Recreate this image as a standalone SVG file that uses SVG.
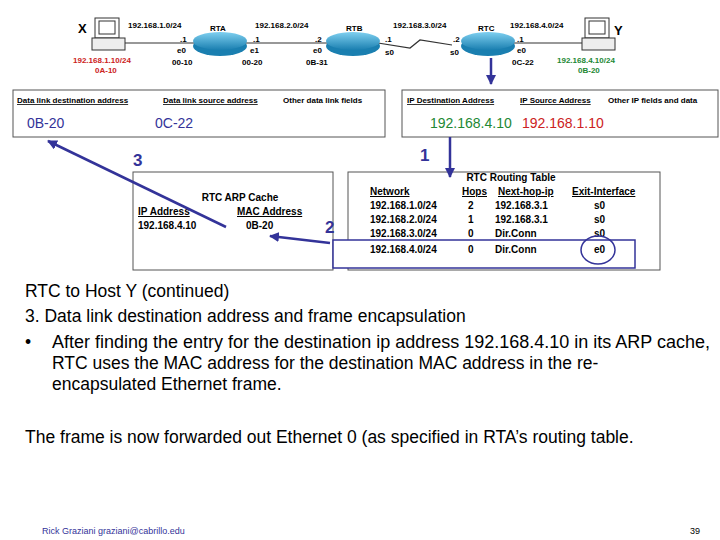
<svg xmlns="http://www.w3.org/2000/svg" width="720" height="540" viewBox="0 0 720 540">
<defs>
<marker id="ah" viewBox="0 0 10 10" refX="9" refY="5" markerWidth="4" markerHeight="4" orient="auto"><path d="M0,0L10,5L0,10z" fill="#333399"/></marker>
<linearGradient id="rg" x1="0" y1="0" x2="0" y2="1"><stop offset="0" stop-color="#7fd0f0"/><stop offset="1" stop-color="#1a7fb0"/></linearGradient>
</defs>
<style>
text{font-family:"Liberation Sans",Arial,sans-serif}
.s{font-size:8px;font-weight:bold}
.h{font-size:8px;font-weight:bold;text-decoration:underline}
.t{font-size:10px;font-weight:bold}
.tu{font-size:10px;font-weight:bold;text-decoration:underline}
.b{font-size:17.5px;fill:#000}
.bl{fill:#333399;font-weight:bold}
.box{fill:#fff;stroke:#555;stroke-width:1}
</style>
<rect width="720" height="540" fill="#fff"/>
<g id="links" stroke="#333" stroke-width="1.2" fill="none">
<line x1="125" y1="43" x2="195" y2="43"/>
<line x1="245" y1="43" x2="328" y2="43"/>
<polyline points="378,43 410,48 420,40 452,45"/>
<line x1="513" y1="43" x2="585" y2="43"/>
</g>
<g id="X"><rect x="95" y="18" width="24" height="20" fill="#fff" stroke="#333"/><rect x="99" y="21" width="16" height="13" fill="#fff" stroke="#333"/><rect x="92" y="38" width="33" height="12" fill="#eee" stroke="#333"/><text x="78" y="33" font-size="13" font-weight="bold">X</text></g>
<g id="Y"><rect x="585" y="18" width="24" height="20" fill="#fff" stroke="#333"/><rect x="589" y="21" width="16" height="13" fill="#fff" stroke="#333"/><rect x="582" y="38" width="33" height="12" fill="#eee" stroke="#333"/><text x="614" y="35" font-size="13" font-weight="bold">Y</text></g>
<g id="RTA"><ellipse cx="220" cy="46" rx="27" ry="10" fill="#1a7fb0"/><ellipse cx="220" cy="41" rx="27" ry="9" fill="url(#rg)"/></g>
<g id="RTB"><ellipse cx="353" cy="46" rx="27" ry="10" fill="#1a7fb0"/><ellipse cx="353" cy="41" rx="27" ry="9" fill="url(#rg)"/></g>
<g id="RTC"><ellipse cx="488" cy="46" rx="27" ry="10" fill="#1a7fb0"/><ellipse cx="488" cy="41" rx="27" ry="9" fill="url(#rg)"/></g>
<g id="labels" class="s">
<text x="128" y="28" class="s">192.168.1.0/24</text><text x="210" y="31" class="s">RTA</text>
<text x="255" y="28" class="s">192.168.2.0/24</text><text x="346" y="31" class="s">RTB</text>
<text x="393" y="28" class="s">192.168.3.0/24</text><text x="478" y="31" class="s">RTC</text>
<text x="510" y="28" class="s">192.168.4.0/24</text>
<text x="180" y="42" class="s">.1</text><text x="177" y="53" class="s">e0</text><text x="172" y="65" class="s">00-10</text>
<text x="253" y="42" class="s">.1</text><text x="250" y="53" class="s">e1</text><text x="242" y="65" class="s">00-20</text>
<text x="315" y="42" class="s">.2</text><text x="313" y="53" class="s">e0</text><text x="306" y="65" class="s">0B-31</text>
<text x="385" y="42" class="s">.1</text><text x="385" y="55" class="s">s0</text>
<text x="453" y="42" class="s">.2</text><text x="450" y="55" class="s">s0</text>
<text x="517" y="42" class="s">.1</text><text x="517" y="53" class="s">e0</text><text x="512" y="65" class="s">0C-22</text>
<text x="73" y="63" class="s" fill="#cc2222">192.168.1.10/24</text><text x="95" y="73" class="s" fill="#cc2222">0A-10</text>
<text x="557" y="63" class="s" fill="#228833">192.168.4.10/24</text><text x="578" y="73" class="s" fill="#228833">0B-20</text>
</g>
<g id="frame1"><rect x="13" y="90" width="372" height="47" class="box"/>
<text x="17" y="103" class="h">Data link destination address</text><text x="163" y="103" class="h">Data link source address</text><text x="283" y="103" class="s">Other data link fields</text>
<text x="27" y="128" font-size="14" fill="#333399">0B-20</text><text x="155" y="128" font-size="14" fill="#333399">0C-22</text></g>
<g id="frame2"><rect x="402" y="90" width="316" height="47" class="box"/>
<text x="407" y="103" class="h">IP Destination Address</text><text x="520" y="103" class="h">IP Source Address</text><text x="608" y="103" class="s">Other IP fields and data</text>
<text x="430" y="128" font-size="14" fill="#228833">192.168.4.10</text><text x="522" y="128" font-size="14" fill="#cc2222">192.168.1.10</text></g>
<g id="arp"><rect x="133" y="172" width="200" height="98" class="box"/>
<text x="240" y="201" class="t" text-anchor="middle">RTC ARP Cache</text>
<text x="138" y="215" class="tu">IP Address</text><text x="237" y="215" class="tu">MAC Address</text>
<text x="138" y="229" class="t">192.168.4.10</text><text x="246" y="229" class="t">0B-20</text></g>
<g id="rt"><rect x="348" y="172" width="312" height="98" class="box"/>
<text x="511" y="181" class="t" text-anchor="middle">RTC Routing Table</text>
<text x="370" y="195" class="tu">Network</text><text x="462" y="195" class="tu">Hops</text><text x="498" y="195" class="tu">Next-hop-ip</text><text x="572" y="195" class="tu">Exit-Interface</text>
<text x="370" y="209" class="t">192.168.1.0/24</text><text x="468" y="209" class="t">2</text><text x="495" y="209" class="t">192.168.3.1</text><text x="594" y="209" class="t">s0</text>
<text x="370" y="223" class="t">192.168.2.0/24</text><text x="468" y="223" class="t">1</text><text x="495" y="223" class="t">192.168.3.1</text><text x="594" y="223" class="t">s0</text>
<text x="370" y="237" class="t">192.168.3.0/24</text><text x="468" y="237" class="t">0</text><text x="495" y="237" class="t">Dir.Conn</text><text x="594" y="237" class="t">s0</text>
<rect x="333" y="240" width="302" height="28" fill="#fff" stroke="#333399" stroke-width="1.5"/>
<text x="370" y="253" class="t">192.168.4.0/24</text><text x="468" y="253" class="t">0</text><text x="495" y="253" class="t">Dir.Conn</text><text x="594" y="253" class="t">e0</text>
<ellipse cx="598" cy="250" rx="17" ry="14" fill="none" stroke="#333399" stroke-width="1.5"/></g>
<g id="connectors" stroke="#333399" stroke-width="2.5" fill="none" marker-end="url(#ah)">
<line x1="491" y1="58" x2="491" y2="84"/>
<line x1="450" y1="137" x2="450" y2="177"/>
<line x1="330" y1="243" x2="270" y2="236"/>
<line x1="226" y1="227" x2="48" y2="141"/>
</g>
<text x="420" y="161" font-size="17" class="bl">1</text>
<text x="325" y="233" font-size="17" class="bl">2</text>
<text x="133" y="166" font-size="17" class="bl">3</text>
<g id="body">
<text x="25" y="297" class="b" font-size="18">RTC to Host Y (continued)</text>
<text x="25" y="322" class="b">3.  Data link destination address and frame encapsulation</text>
<text x="25" y="348" class="b">•</text>
<text x="52" y="348" class="b" textLength="658" lengthAdjust="spacingAndGlyphs">After finding the entry for the destination ip address 192.168.4.10 in its ARP cache,</text>
<text x="52" y="369" class="b">RTC uses the MAC address for the destination MAC address in the re-</text>
<text x="52" y="390" class="b">encapsulated Ethernet frame.</text>
<text x="25" y="443" class="b">The frame is now forwarded out Ethernet 0 (as specified in RTA’s routing table.</text>
<text x="42" y="534" font-size="9" fill="#333399">Rick Graziani  graziani@cabrillo.edu</text>
<text x="690" y="534" font-size="9">39</text>
</g>
</svg>
